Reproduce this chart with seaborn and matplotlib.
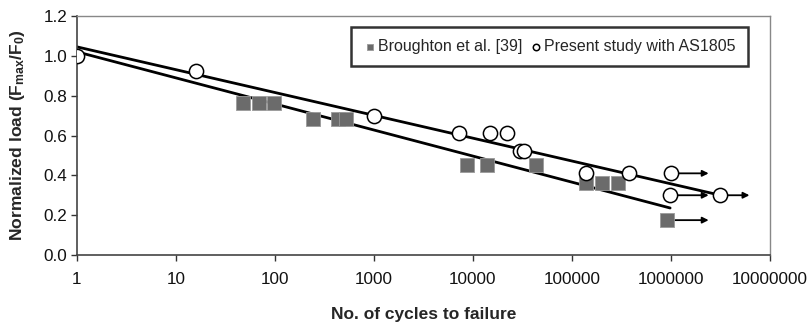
import matplotlib
matplotlib.use("Agg")
import matplotlib.pyplot as plt
import seaborn as sns
import pandas as pd
import numpy as np

# ---- data ----
brough_cycles = [48, 69, 98, 240, 430, 520, 8700, 13800, 43000, 138000, 200000, 290000, 910000]
brough_load = [0.763, 0.763, 0.763, 0.683, 0.683, 0.683, 0.45, 0.45, 0.45, 0.36, 0.36, 0.36, 0.175]

present_cycles = [1, 16, 1000, 7200, 15000, 22000, 30000, 33000, 140000, 380000, 1000000, 980000, 3160000]
present_load = [1.0, 0.925, 0.70, 0.615, 0.615, 0.615, 0.52, 0.52, 0.41, 0.41, 0.41, 0.30, 0.30]

# trend lines (endpoints)
trend_present_x = [1, 3160000]
trend_present_y = [1.045, 0.30]
trend_brough_x = [1, 980000]
trend_brough_y = [1.02, 0.236]

# run-outs (arrows)
runout_x = [1000000, 980000, 910000, 3160000]
runout_y = [0.41, 0.30, 0.175, 0.30]
runout_end_x = [2400000, 2400000, 2400000, 6200000]

xticks = [1, 10, 100, 1000, 10000, 100000, 1000000, 10000000]
xtick_labels = ["1", "10", "100", "1000", "10000", "100000", "1000000", "10000000"]
yticks = [0.0, 0.2, 0.4, 0.6, 0.8, 1.0, 1.2]

# ---- style ----
sns.set_theme(style="white")
plt.rcParams["font.family"] = ["Liberation Sans", "DejaVu Sans"]
plt.rcParams["mathtext.fontset"] = "custom"
plt.rcParams["mathtext.rm"] = "Liberation Sans"
plt.rcParams["mathtext.bf"] = "Liberation Sans:bold"
plt.rcParams["mathtext.default"] = "bf"

fig = plt.figure(figsize=(8.12, 3.23), dpi=100)
ax = fig.add_axes([77/812, 1-255/323, (770-77)/812, (255-16)/323])

df_b = pd.DataFrame({"x": brough_cycles, "y": brough_load})
df_p = pd.DataFrame({"x": present_cycles, "y": present_load})

sns.lineplot(x=trend_present_x, y=trend_present_y, ax=ax, color="black", lw=2.0, zorder=2)
sns.lineplot(x=trend_brough_x, y=trend_brough_y, ax=ax, color="black", lw=2.0, zorder=2)

for x0, y0, x1 in zip(runout_x, runout_y, runout_end_x):
    ax.annotate("", xy=(x1, y0), xytext=(x0*1.18, y0),
                arrowprops=dict(arrowstyle="-|>", color="black", lw=1.3,
                                mutation_scale=9, shrinkA=0, shrinkB=0), zorder=1)

sns.scatterplot(data=df_b, x="x", y="y", ax=ax, marker="s", s=90, color="#6b6b6b",
                edgecolor="#9a9a9a", linewidth=0.6, zorder=3, label="Broughton et al. [39]")
sns.scatterplot(data=df_p, x="x", y="y", ax=ax, marker="o", s=105, facecolor="white",
                edgecolor="black", linewidth=1.1, zorder=4, label="Present study with AS1805")

ax.set_xscale("log")
ax.set_xlim(1, 10000000)
ax.set_ylim(0, 1.2)
ax.set_xticks(xticks)
ax.set_xticklabels(xtick_labels)
ax.minorticks_off()
ax.set_yticks(yticks)
ax.set_yticklabels([f"{v:.1f}" for v in yticks])
ax.tick_params(axis="both", direction="out", length=4, width=1.0, color="#333333",
               labelsize=12.3, labelcolor="#111111", pad=3)
ax.tick_params(axis="both", which="both", bottom=True, left=True)
ax.tick_params(axis="x", pad=8)

for s in ["left", "bottom"]:
    ax.spines[s].set_color("#444444")
    ax.spines[s].set_linewidth(1.2)
for s in ["right", "top"]:
    ax.spines[s].set_color("#888888")
    ax.spines[s].set_linewidth(1.0)

ax.set_xlabel("No. of cycles to failure", fontsize=12.5, fontweight="bold", labelpad=15)
ax.set_ylabel(r"Normalized load (F$_{max}$/F$_0$)", fontsize=12.6, fontweight="bold", labelpad=12)

leg = ax.legend(loc="upper right", bbox_to_anchor=(0.968, 0.955), ncol=2, fontsize=11.5,
                frameon=True, fancybox=False, markerscale=0.45, handletextpad=0.1,
                columnspacing=0.5, borderpad=0.75, handlelength=0.8, borderaxespad=0)
leg.get_frame().set_edgecolor("black")
leg.get_frame().set_linewidth(1.8)

fig.savefig("out.png", dpi=100)
